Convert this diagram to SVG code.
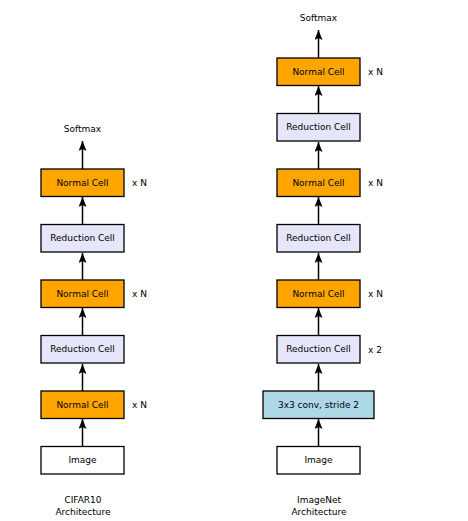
<svg xmlns="http://www.w3.org/2000/svg" width="468" height="521" viewBox="0 0 468 521">
<defs>
<style>
text{font-family:"DejaVu Sans","Liberation Sans",sans-serif;font-size:9px;fill:#000;text-anchor:middle;dominant-baseline:central}
.lbl{text-anchor:start}
rect{stroke:#000;stroke-width:1.3}
.normal{fill:#FFA500}
.red{fill:#E6E6FA}
.conv{fill:#ADD8E6}
.img{fill:#fff}
.arr{stroke:#000;stroke-width:1.5;fill:none;marker-end:url(#ah)}
</style>
<marker id="ah" markerUnits="userSpaceOnUse" markerWidth="10" markerHeight="8" refX="10" refY="4" orient="auto" viewBox="0 0 10 8">
<path d="M0,0 L10,4 L0,8 L2,4 Z" fill="#000"/>
</marker>
</defs>
<rect x="0" y="0" width="468" height="521" fill="#fff" style="stroke:none"/>
<g id="connectors">
<line class="arr" x1="82.5" y1="446.5" x2="82.5" y2="419"/>
<line class="arr" x1="82.5" y1="391" x2="82.5" y2="364"/>
<line class="arr" x1="82.5" y1="335.5" x2="82.5" y2="308"/>
<line class="arr" x1="82.5" y1="280" x2="82.5" y2="253"/>
<line class="arr" x1="82.5" y1="224.5" x2="82.5" y2="197"/>
<line class="arr" x1="82.5" y1="169" x2="82.5" y2="141"/>
<line class="arr" x1="318.5" y1="446.5" x2="318.5" y2="419"/>
<line class="arr" x1="318.5" y1="391" x2="318.5" y2="364"/>
<line class="arr" x1="318.5" y1="335.5" x2="318.5" y2="308"/>
<line class="arr" x1="318.5" y1="280" x2="318.5" y2="253"/>
<line class="arr" x1="318.5" y1="224.5" x2="318.5" y2="197"/>
<line class="arr" x1="318.5" y1="169" x2="318.5" y2="142"/>
<line class="arr" x1="318.5" y1="113.5" x2="318.5" y2="86"/>
<line class="arr" x1="318.5" y1="58" x2="318.5" y2="30"/>
</g>
<g id="cifar">
<g id="c_softmax"><text x="82.5" y="129">Softmax</text></g>
<g id="c_n3"><rect class="normal" x="41" y="169" width="83" height="27.5"/><text x="82.5" y="182.8">Normal Cell</text><text class="lbl" x="132" y="183">x N</text></g>
<g id="c_r2"><rect class="red" x="41" y="224.5" width="83" height="27.5"/><text x="82.5" y="238.3">Reduction Cell</text></g>
<g id="c_n2"><rect class="normal" x="41" y="280" width="83" height="27.5"/><text x="82.5" y="293.8">Normal Cell</text><text class="lbl" x="132" y="294">x N</text></g>
<g id="c_r1"><rect class="red" x="41" y="335.5" width="83" height="27.5"/><text x="82.5" y="349.3">Reduction Cell</text></g>
<g id="c_n1"><rect class="normal" x="41" y="391" width="83" height="27.5"/><text x="82.5" y="404.8">Normal Cell</text><text class="lbl" x="132" y="405">x N</text></g>
<g id="c_img"><rect class="img" x="41" y="446.5" width="83" height="27.5"/><text x="82.5" y="460.3">Image</text></g>
<g id="c_title"><text x="83" y="499.5">CIFAR10</text><text x="83" y="511.5">Architecture</text></g>
</g>
<g id="imagenet">
<g id="i_softmax"><text x="318.5" y="18">Softmax</text></g>
<g id="i_n4"><rect class="normal" x="277" y="58" width="83" height="27.5"/><text x="318.5" y="71.8">Normal Cell</text><text class="lbl" x="368" y="72">x N</text></g>
<g id="i_r3"><rect class="red" x="277" y="113.5" width="83" height="27.5"/><text x="318.5" y="127.3">Reduction Cell</text></g>
<g id="i_n3"><rect class="normal" x="277" y="169" width="83" height="27.5"/><text x="318.5" y="182.8">Normal Cell</text><text class="lbl" x="368" y="183">x N</text></g>
<g id="i_r2"><rect class="red" x="277" y="224.5" width="83" height="27.5"/><text x="318.5" y="238.3">Reduction Cell</text></g>
<g id="i_n2"><rect class="normal" x="277" y="280" width="83" height="27.5"/><text x="318.5" y="293.8">Normal Cell</text><text class="lbl" x="368" y="294">x N</text></g>
<g id="i_r1"><rect class="red" x="277" y="335.5" width="83" height="27.5"/><text x="318.5" y="349.3">Reduction Cell</text><text class="lbl" x="368" y="349.5">x 2</text></g>
<g id="i_conv"><rect class="conv" x="263" y="391" width="111" height="27.5"/><text x="318.5" y="404.8">3x3 conv, stride 2</text></g>
<g id="i_img"><rect class="img" x="277" y="446.5" width="83" height="27.5"/><text x="318.5" y="460.3">Image</text></g>
<g id="i_title"><text x="319" y="499.5">ImageNet</text><text x="319" y="511.5">Architecture</text></g>
</g>
</svg>
